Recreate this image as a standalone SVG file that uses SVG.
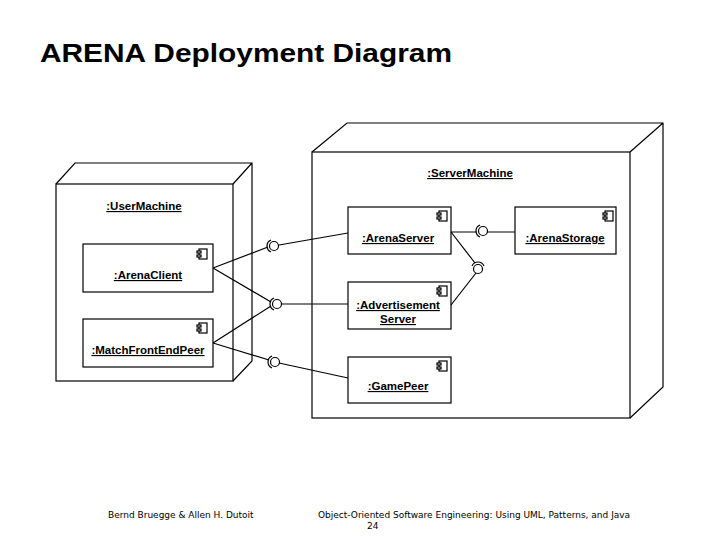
<svg xmlns="http://www.w3.org/2000/svg" width="720" height="540" viewBox="0 0 720 540">
<style>
.s{fill:none;stroke:#000;stroke-width:1.2}
.b{fill:#fff;stroke:#000;stroke-width:1.2}
.t{font-family:"Liberation Sans",Arial,sans-serif;font-size:11.5px;font-weight:bold;text-decoration:underline;text-anchor:middle}
.f{font-family:"DejaVu Sans",sans-serif;font-size:9px}
</style>
<defs>
<g id="ic"><rect x="-4" y="-5" width="8" height="10" class="b" stroke-width="1"/><rect x="-6" y="-3" width="4" height="2" class="b" stroke-width="1"/><rect x="-6" y="1" width="4" height="2" class="b" stroke-width="1"/></g>
</defs>
<rect width="720" height="540" fill="#fff"/>
<text x="40" y="62" font-family="Liberation Sans,Arial,sans-serif" font-size="26" font-weight="bold" textLength="412" lengthAdjust="spacingAndGlyphs">ARENA Deployment Diagram</text>
<g id="UserMachine">
<path class="s" d="M56,184 L75,163 L252,163 L252,361 L233,381 M233,184 L252,163"/>
<rect x="56" y="184" width="177" height="197" class="b"/>
<text class="t" x="144" y="210">:UserMachine</text>
</g>
<g id="ServerMachine">
<path class="s" d="M312,152 L347,123 L663,123 L663,387 L630,418 M630,152 L663,123"/>
<rect x="312" y="152" width="318" height="266" class="b"/>
<text class="t" x="470" y="177">:ServerMachine</text>
</g>
<g id="ArenaClient"><rect x="83" y="244" width="130" height="48" class="b"/><use href="#ic" x="203" y="254"/><text class="t" x="148" y="279">:ArenaClient</text></g>
<g id="MatchFrontEndPeer"><rect x="83" y="319" width="130" height="48" class="b"/><use href="#ic" x="203" y="328"/><text class="t" x="148" y="354">:MatchFrontEndPeer</text></g>
<g id="ArenaServer"><rect x="348" y="207" width="103" height="47" class="b"/><use href="#ic" x="443" y="216"/><text class="t" x="398" y="242">:ArenaServer</text></g>
<g id="ArenaStorage"><rect x="515" y="207" width="101" height="47" class="b"/><use href="#ic" x="609" y="216"/><text class="t" x="565" y="242">:ArenaStorage</text></g>
<g id="AdvertisementServer"><rect x="348" y="282" width="103" height="47" class="b"/><use href="#ic" x="443" y="291"/><text class="t" x="398" y="309">:Advertisement</text><text class="t" x="398" y="323">Server</text></g>
<g id="GamePeer"><rect x="348" y="357" width="103" height="46" class="b"/><use href="#ic" x="443" y="366"/><text class="t" x="398" y="390">:GamePeer</text></g>
<g id="connectors" class="s" stroke-width="1">
<path d="M213,268 L268,247 M213,268 L271,302 M213,343 L271,306 M213,343 L269,360"/>
<path d="M279,245 L348,233 M281,304 L348,304 M279,363 L348,378"/>
<path d="M451,232 L477,232 M487,232 L515,232 M451,232 L475,263 M451,305 L476,273"/>
<circle cx="274" cy="246" r="4.5"/><path d="M271,240 A6.5,6.5 0 0 0 271,252"/>
<circle cx="277" cy="304" r="4.5"/><path d="M274,298 A6.5,6.5 0 0 0 274,310"/>
<circle cx="275" cy="362" r="4.5"/><path d="M272,356 A6.5,6.5 0 0 0 272,368"/>
<circle cx="483" cy="231" r="4.5"/><path d="M480,225 A6.5,6.5 0 0 0 480,237"/>
<circle cx="478" cy="269" r="4.5"/><path d="M472,266 A6.5,6.5 0 0 1 484,266"/>
</g>
<text class="f" x="108" y="518">Bernd Bruegge &amp; Allen H. Dutoit</text>
<text class="f" x="318" y="518">Object-Oriented Software Engineering: Using UML, Patterns, and Java</text>
<text class="f" x="367" y="529">24</text>
</svg>
